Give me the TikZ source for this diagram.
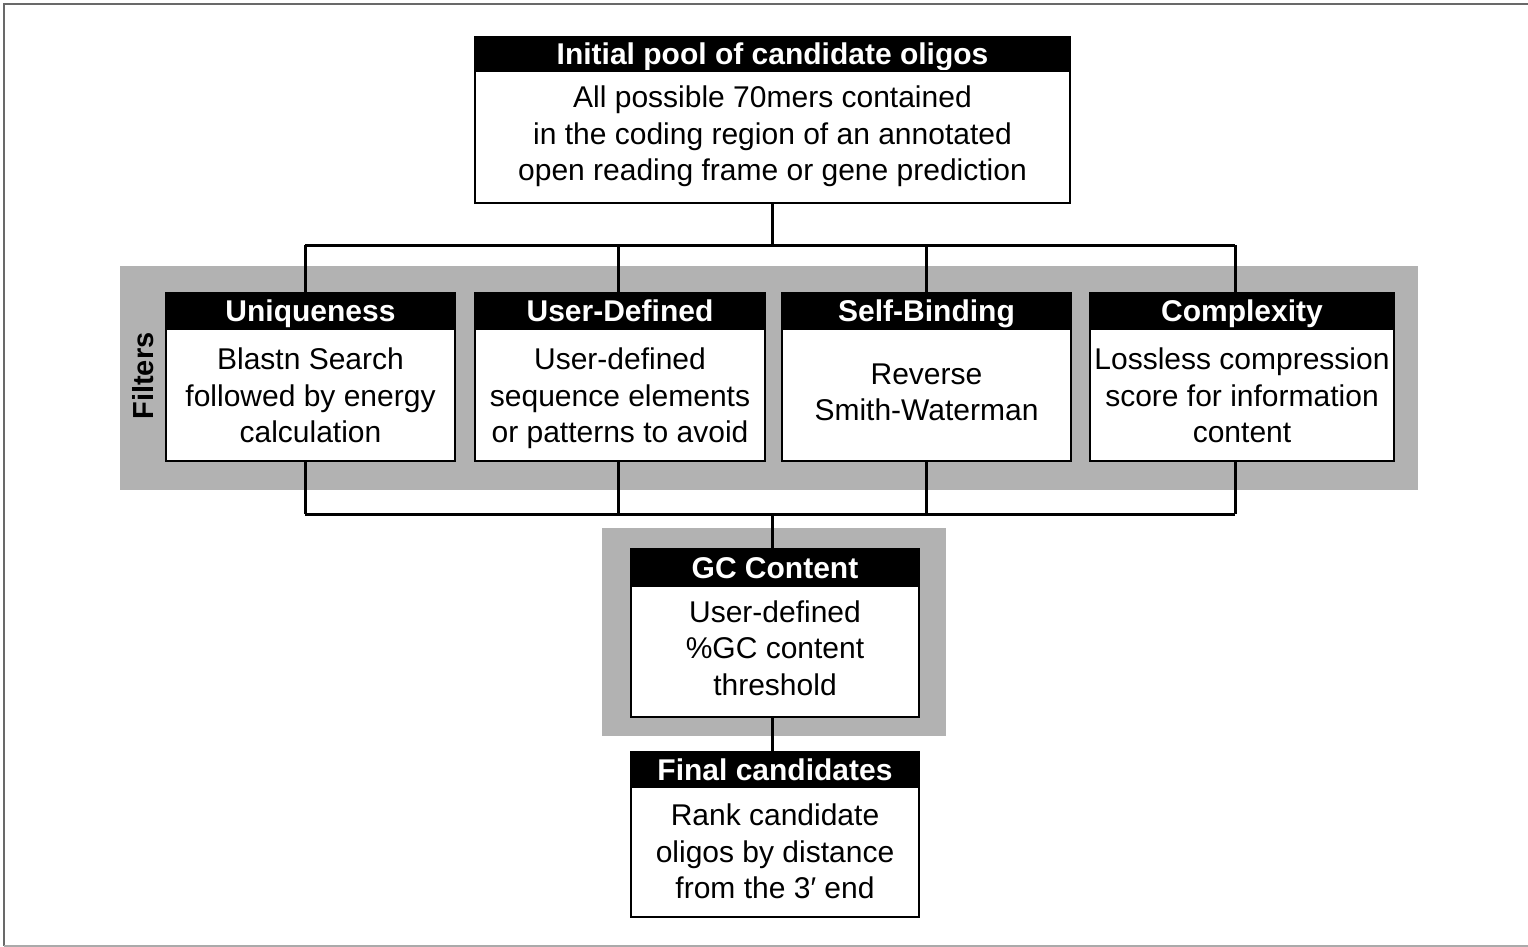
\documentclass[tikz,border=0pt]{standalone}
\usepackage{fontspec}
\setmainfont{Liberation Sans}
\definecolor{bandgray}{RGB}{178,178,178}
\definecolor{framedark}{RGB}{105,105,105}
\definecolor{framelight}{RGB}{170,170,170}
\newcommand\tallstrut[1]{\rule{0pt}{#1}}
\begin{document}
\begin{tikzpicture}[x=1pt,y=-1pt,
  conn/.style={line width=3pt,draw=black},
  band/.style={fill=bandgray,draw=none,inner sep=0pt,anchor=center},
  hdr/.style={fill=black,draw=black,line width=2pt,text=white,inner sep=0pt,
    font=\bfseries\fontsize{30}{36}\selectfont,text height=21.5pt,text depth=0pt,anchor=center},
  bdy/.style={fill=white,draw=black,line width=2pt,inner sep=0pt,align=center,
    font=\fontsize{30}{36.5}\selectfont,anchor=center}]
\useasboundingbox (0,0) rectangle (1528,947);
% outer frame
\draw[framedark,line width=2.5pt] (1528,4) -- (4,4) -- (4,946);
\draw[framelight,line width=2pt] (4,946) -- (1528,946);
% gray bands
\node[band,minimum width=1298pt,minimum height=224pt] (filters) at (769,378) {};
\node[band,minimum width=344pt,minimum height=208pt] (gcband) at (774,632) {};
\node[rotate=90,font=\bfseries\fontsize{29}{34}\selectfont,anchor=center] (flt) at (143,376) {Filters};
% initial pool
\node[hdr,minimum width=595pt,minimum height=34pt] (Th) at (772.5,54) {Initial pool of candidate oligos};
\node[bdy,minimum width=595pt,minimum height=132pt] (Tb) at (772.5,137)
  {\strut All possible 70mers contained\\in the coding region of an annotated\\open reading frame or gene prediction\strut};
% filters
\node[hdr,minimum width=289pt,minimum height=36pt] (Uh) at (310.5,311) {Uniqueness};
\node[hdr,minimum width=290pt,minimum height=36pt] (Dh) at (620,311) {User-Defined};
\node[hdr,minimum width=289pt,minimum height=36pt] (Sh) at (926.5,311) {Self-Binding};
\node[hdr,minimum width=304pt,minimum height=36pt] (Ch) at (1242,311) {Complexity};
\node[bdy,minimum width=289pt,minimum height=132pt] (Ub) at (310.5,395)
  {\tallstrut{33.5pt}Blastn Search\\followed by energy\\calculation\strut};
\node[bdy,minimum width=290pt,minimum height=132pt] (Db) at (620,395)
  {\tallstrut{33.5pt}User-defined\\sequence elements\\or patterns to avoid\strut};
\node[bdy,minimum width=289pt,minimum height=132pt] (Sb) at (926.5,395)
  {\strut Reverse\\Smith-Waterman\strut};
\node[bdy,minimum width=304pt,minimum height=132pt] (Cb) at (1242,395)
  {\tallstrut{33.5pt}Lossless compression\\score for information\\content\strut};
% GC content
\node[hdr,minimum width=288pt,minimum height=37pt] (Gh) at (775,567.5) {GC Content};
\node[bdy,minimum width=288pt,minimum height=131pt] (Gb) at (775,651.5)
  {\strut User-defined\\\%GC content\\threshold\strut};
% final
\node[hdr,minimum width=288pt,minimum height=35pt] (Fh) at (775,769.5) {Final candidates};
\node[bdy,minimum width=288pt,minimum height=130pt] (Fb) at (775,852)
  {\tallstrut{31.5pt}Rank candidate\\oligos by distance\\from the 3′ end\strut};
% bus coordinates
\coordinate (t1) at (305,245);
\coordinate (t2) at (618,245);
\coordinate (t3) at (926,245);
\coordinate (t4) at (1235,245);
\coordinate (m1) at (305,514);
\coordinate (m2) at (618,514);
\coordinate (m3) at (926,514);
\coordinate (m4) at (1235,514);
\coordinate (mc) at (772,514);
% connectors
\draw[conn] (Tb.south -| mc) -- (mc |- t1);
\draw[conn] (t1) -- (t4);
\draw[conn] (t1) -- (t1 |- Uh.north);
\draw[conn] (t2) -- (t2 |- Dh.north);
\draw[conn] (t3) -- (t3 |- Sh.north);
\draw[conn] (t4) -- (t4 |- Ch.north);
\draw[conn] (Ub.south -| m1) -- (m1);
\draw[conn] (Db.south -| m2) -- (m2);
\draw[conn] (Sb.south -| m3) -- (m3);
\draw[conn] (Cb.south -| m4) -- (m4);
\draw[conn] (m1) -- (m4);
\draw[conn] (mc) -- (mc |- Gh.north);
\draw[conn] (Gb.south -| mc) -- (mc |- Fh.north);
\end{tikzpicture}
\end{document}
